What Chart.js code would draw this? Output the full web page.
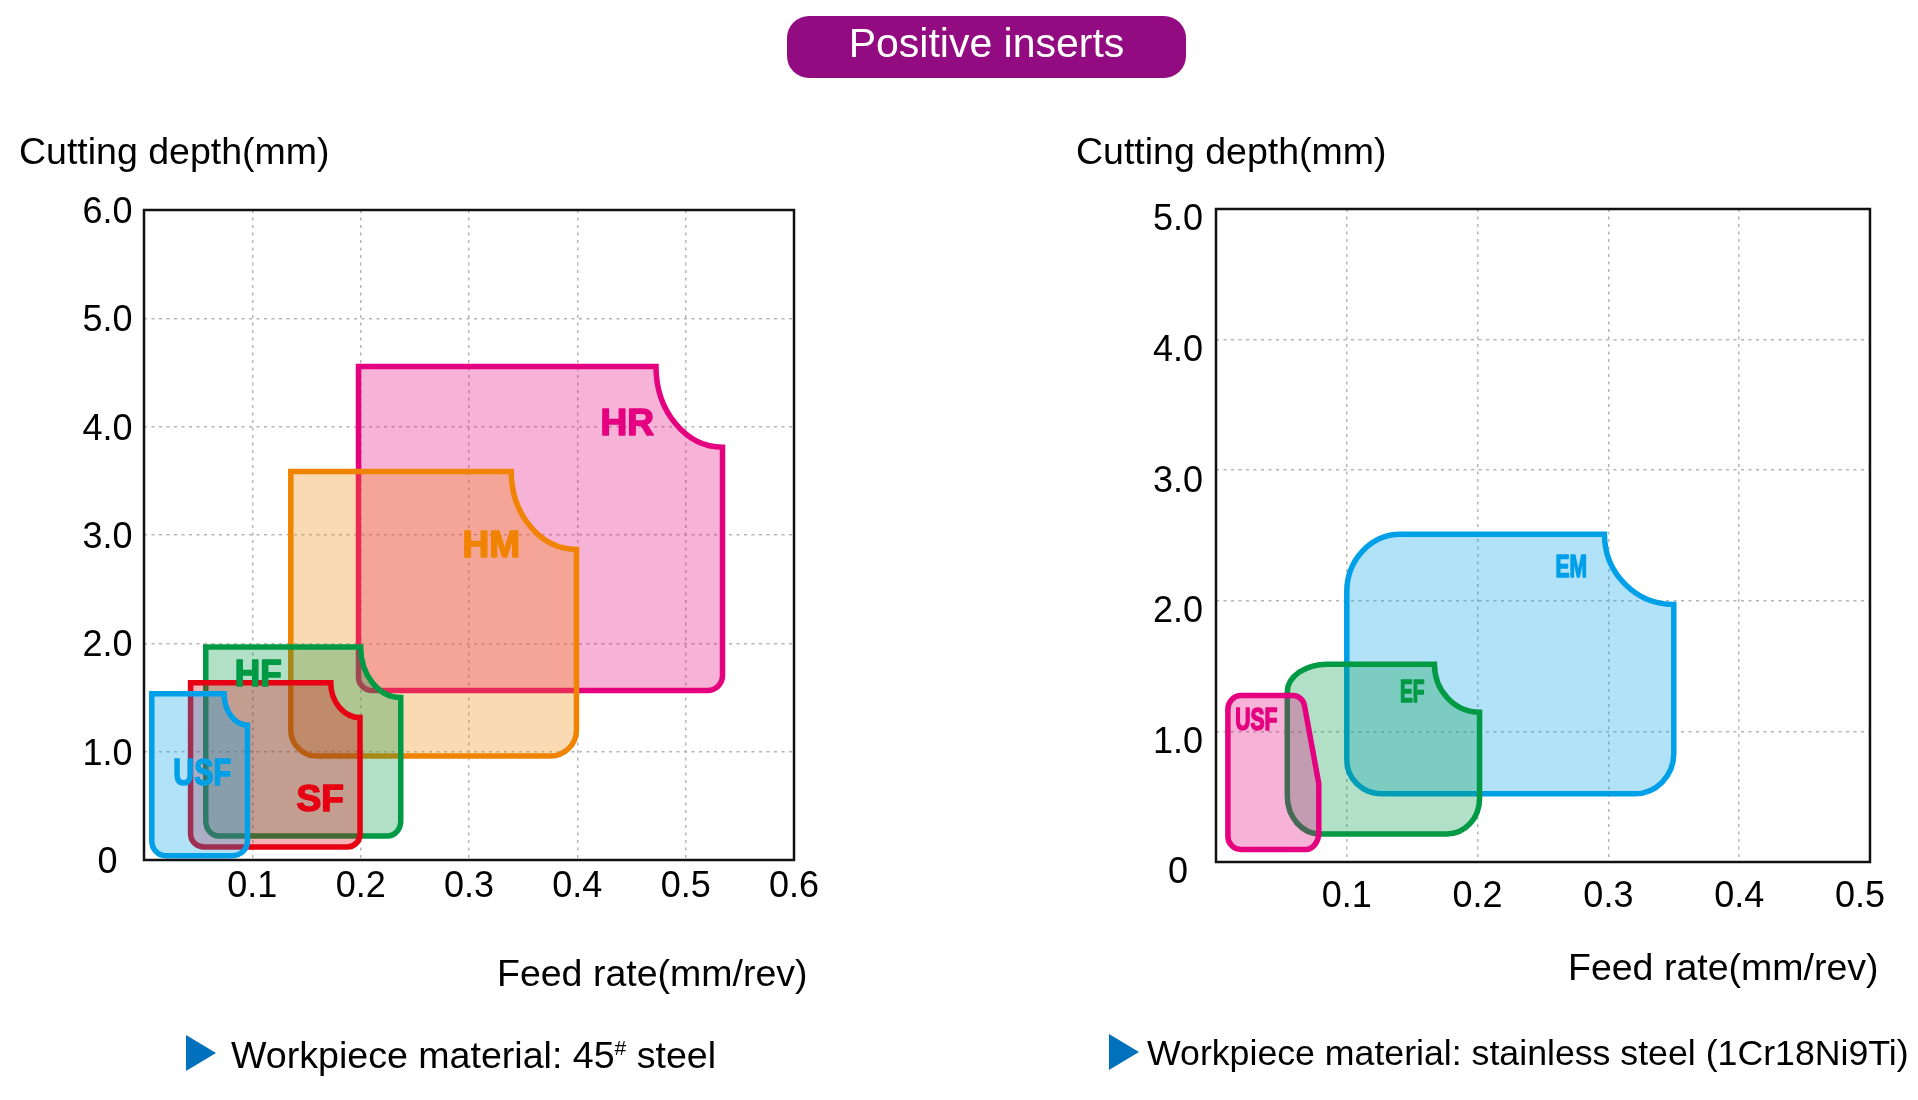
<!DOCTYPE html>
<html>
<head>
<meta charset="utf-8">
<script src="https://cdn.jsdelivr.net/npm/chart.js@4.4.1/dist/chart.umd.min.js"></script>
<style>
  body { margin: 0; width: 1918px; height: 1100px; background: #fff; position: relative; overflow: hidden;
         font-family: 'Liberation Sans', Arial, sans-serif; color: #000; }
  canvas { position: absolute; top: 0; }
  .txt { position: absolute; white-space: nowrap; font-size: 37.5px; line-height: 37.5px; z-index: 2; }
  .cap { font-size: 37.6px; line-height: 37px; }
  .tri { position: absolute; width: 0; height: 0; border-top: 18px solid transparent;
         border-bottom: 18px solid transparent; border-left: 30px solid #0071bc; z-index: 2; }
  #pill { position: absolute; left: 787px; top: 16px; width: 399px; height: 62px; box-sizing: border-box;
          padding-top: 7px; border-radius: 22px; background: #920b81; color: #fff; text-align: center;
          font-size: 41px; line-height: 41px; }
  sup { font-size: 21px; line-height: 0; vertical-align: 13px; }
</style>
</head>
<body>
<canvas id="leftChart" width="960" height="1100" style="left:0"></canvas>
<canvas id="rightChart" width="958" height="1100" style="left:960px"></canvas>

<div id="pill">Positive inserts</div>
<div class="txt" style="left:19px; top:133px">Cutting depth(mm)</div>
<div class="txt" style="left:1076px; top:133px">Cutting depth(mm)</div>
<div class="txt" style="left:497px; top:955px">Feed rate(mm/rev)</div>
<div class="txt" style="left:1568px; top:949px">Feed rate(mm/rev)</div>
<div class="tri" style="left:186px; top:1035px"></div>
<div class="txt cap" style="left:231px; top:1037px">Workpiece material: 45<sup>#</sup> steel</div>
<div class="tri" style="left:1109px; top:1034px"></div>
<div class="txt cap" style="left:1147px; top:1035px; font-size:35.7px">Workpiece material: stainless steel (1Cr18Ni9Ti)</div>

<script>
// Axis ticks
const leftXTicks = [0.1, 0.2, 0.3, 0.4, 0.5, 0.6];
const leftXLabels = ['0.1', '0.2', '0.3', '0.4', '0.5', '0.6'];
const leftYTicks = [0, 1, 2, 3, 4, 5, 6];
const leftYLabels = ['0', '1.0', '2.0', '3.0', '4.0', '5.0', '6.0'];
const rightXTicks = [0.1, 0.2, 0.3, 0.4, 0.5];
const rightXLabels = ['0.1', '0.2', '0.3', '0.4', '0.5'];
const rightYTicks = [0, 1, 2, 3, 4, 5];
const rightYLabels = ['0', '1.0', '2.0', '3.0', '4.0', '5.0'];

// Insert grades, drawn back to front
const leftGrades = ['HR', 'HM', 'HF', 'SF', 'USF'];
const rightGrades = ['EM', 'EF', 'USF'];

// Working ranges as outlines [feed, depth]; a third value 1 marks the corner of a rounded bend
const hrOutline = [[0.198, 4.556], [0.4726, 4.556], [0.4726, 3.81, 1], [0.534, 3.81], [0.534, 1.70],
  [0.534, 1.565, 1], [0.520, 1.565], [0.211, 1.565], [0.198, 1.565, 1], [0.198, 1.685]];
const hmOutline = [[0.1355, 3.586], [0.339, 3.586], [0.339, 2.867, 1], [0.3992, 2.867], [0.3992, 1.20],
  [0.3992, 0.96, 1], [0.375, 0.96], [0.1595, 0.96], [0.1355, 0.96, 1], [0.1355, 1.20]];
const hfOutline = [[0.057, 1.967], [0.200, 1.967], [0.200, 1.50, 1], [0.237, 1.50], [0.237, 0.36],
  [0.237, 0.222, 1], [0.2247, 0.222], [0.069, 0.222], [0.057, 0.222, 1], [0.057, 0.36]];
const sfOutline = [[0.043, 1.636], [0.1724, 1.636], [0.1724, 1.315, 1], [0.1994, 1.315], [0.1994, 0.2375],
  [0.1994, 0.12, 1], [0.1877, 0.12], [0.0554, 0.12], [0.043, 0.12, 1], [0.043, 0.2375]];
const usfLeftOutline = [[0.0072, 1.535], [0.074, 1.535], [0.074, 1.245, 1], [0.0955, 1.245], [0.0955, 0.176],
  [0.0955, 0.04, 1], [0.0816, 0.04], [0.020, 0.04], [0.0072, 0.04, 1], [0.0072, 0.176]];

const emOutline = [[0.1, 2.07], [0.1, 2.51, 1], [0.141, 2.51], [0.297, 2.51], [0.297, 1.972, 1], [0.35, 1.972],
  [0.35, 0.83], [0.35, 0.522, 1], [0.32, 0.522], [0.127, 0.522], [0.1, 0.522, 1], [0.1, 0.78]];
const efOutline = [[0.0545, 1.30], [0.0545, 1.515, 1], [0.085, 1.515], [0.167, 1.515], [0.167, 1.147, 1],
  [0.2015, 1.147], [0.2015, 0.485], [0.2015, 0.215, 1], [0.1765, 0.215], [0.0795, 0.215],
  [0.0545, 0.215, 1], [0.0545, 0.505]];
const usfRightOutline = [[0.0091, 1.17], [0.0091, 1.274, 1], [0.019, 1.274], [0.059, 1.274],
  [0.0662, 1.274, 1], [0.0676, 1.20], [0.0786, 0.60], [0.0786, 0.226], [0.0786, 0.096, 1],
  [0.0686, 0.096], [0.019, 0.096], [0.0091, 0.096, 1], [0.0091, 0.196]];

// Where each grade name is written [feed, depth]
const leftLabelAt = [[0.446, 4.02], [0.3206, 2.89], [0.1054, 1.70], [0.1627, 0.546], [0.0537, 0.787]];
const rightLabelAt = [[0.2717, 2.247], [0.150, 1.293], [0.0308, 1.077]];

const leftColors = ['#e4007f', '#f08300', '#009944', '#e60012', '#00a0e9'];
const rightColors = ['#00a0e9', '#009944', '#e4007f'];

const FONT = "'Liberation Sans', Arial, sans-serif";
const K = 0.5523; // quarter ellipse as a cubic

function tint(hex, a) {
  const n = parseInt(hex.slice(1), 16);
  return `rgba(${n >> 16}, ${(n >> 8) & 255}, ${n & 255}, ${a})`;
}

function toPoints(outline) {
  return outline.map(([x, y, c]) => ({ x, y, c: !!c }));
}

// Draws each outline through the scales, then the grade names and the frame
function regionPlugin(labelAt, fontSize, squash) {
  return {
    id: 'regions',
    beforeDatasetsDraw(chart) {
      const { ctx, scales: { x, y } } = chart;
      chart.data.datasets.forEach(ds => {
        const pts = ds.data.map(p => ({ px: x.getPixelForValue(p.x), py: y.getPixelForValue(p.y), c: p.c }));
        ctx.save();
        ctx.beginPath();
        ctx.moveTo(pts[0].px, pts[0].py);
        for (let i = 1; i < pts.length; i++) {
          const p = pts[i];
          if (p.c) {
            const a = pts[i - 1], b = pts[(i + 1) % pts.length];
            ctx.bezierCurveTo(a.px + K * (p.px - a.px), a.py + K * (p.py - a.py),
              b.px + K * (p.px - b.px), b.py + K * (p.py - b.py), b.px, b.py);
            i++;
          } else {
            ctx.lineTo(p.px, p.py);
          }
        }
        ctx.closePath();
        ctx.fillStyle = ds.backgroundColor;
        ctx.fill();
        ctx.lineWidth = 5.5;
        ctx.lineJoin = 'miter';
        ctx.strokeStyle = ds.borderColor;
        ctx.stroke();
        ctx.restore();
      });
    },
    afterDatasetsDraw(chart) {
      const { ctx, chartArea, scales: { x, y } } = chart;
      chart.data.datasets.forEach((ds, i) => {
        ctx.save();
        ctx.translate(x.getPixelForValue(labelAt[i][0]), y.getPixelForValue(labelAt[i][1]));
        ctx.scale(squash[i], 1);
        ctx.font = `bold ${fontSize}px ${FONT}`;
        ctx.fillStyle = ds.borderColor;
        ctx.strokeStyle = ds.borderColor;
        ctx.lineWidth = 1.6;
        ctx.lineJoin = 'round';
        ctx.textAlign = 'center';
        ctx.textBaseline = 'middle';
        ctx.fillText(ds.label, 0, 0);
        ctx.strokeText(ds.label, 0, 0); // heavier lettering
        ctx.restore();
      });
      // plot frame
      ctx.save();
      ctx.lineWidth = 2.5;
      ctx.strokeStyle = '#111';
      ctx.strokeRect(chartArea.left, chartArea.top, chartArea.right - chartArea.left, chartArea.bottom - chartArea.top);
      ctx.restore();
    }
  };
}

function makeChart(id, cfg) {
  return new Chart(document.getElementById(id).getContext('2d'), {
    type: 'scatter',
    data: {
      datasets: cfg.grades.map((g, i) => ({
        label: g,
        data: toPoints(cfg.outlines[i]),
        borderColor: cfg.colors[i],
        backgroundColor: tint(cfg.colors[i], 0.3),
        showLine: false,
        pointRadius: 0
      }))
    },
    options: {
      responsive: false,
      animation: false,
      devicePixelRatio: 1,
      layout: { padding: cfg.padding },
      events: [],
      plugins: { legend: { display: false }, tooltip: { enabled: false } },
      scales: {
        x: {
          type: 'linear', min: 0, max: cfg.xMax,
          afterBuildTicks: s => { s.ticks = cfg.xTicks.map(v => ({ value: v })); },
          afterFit: s => { s.height = 60; },
          grid: { color: '#b5b5b5', lineWidth: 1.5, drawTicks: false },
          border: { display: false, dash: [3, 4.5] },
          ticks: {
            autoSkip: false, maxRotation: 0, padding: cfg.xPad, color: '#000',
            font: { family: FONT, size: 36 },
            callback: cfg.xLabel
          }
        },
        y: {
          type: 'linear', min: 0, max: cfg.yMax,
          afterBuildTicks: s => { s.ticks = cfg.yTicks.map(v => ({ value: v })); },
          afterFit: s => { s.width = cfg.yWidth; },
          grid: { color: '#b5b5b5', lineWidth: 1.5, drawTicks: false },
          border: { display: false, dash: [3, 4.5] },
          ticks: {
            crossAlign: 'center', padding: cfg.yPad, labelOffset: cfg.yOffset, color: '#000',
            font: { family: FONT, size: 36 },
            callback: (v, i) => cfg.yLabels[i]
          }
        }
      }
    },
    plugins: [regionPlugin(cfg.labelAt, cfg.fontSize, cfg.squash)]
  });
}

// 45# steel
makeChart('leftChart', {
  grades: leftGrades, colors: leftColors,
  outlines: [hrOutline, hmOutline, hfOutline, sfOutline, usfLeftOutline],
  labelAt: leftLabelAt, fontSize: 37, squash: [1, 1, 0.95, 1, 0.78],
  xMax: 0.6, yMax: 6, xTicks: leftXTicks, yTicks: leftYTicks, yLabels: leftYLabels,
  xLabel: (v, i) => leftXLabels[i],
  padding: { left: 0, top: 210, right: 166, bottom: 180 }, yWidth: 144, xPad: 5, yPad: 11.5, yOffset: 3
});

// stainless steel; the last feed label sits a little inside the frame
makeChart('rightChart', {
  grades: rightGrades, colors: rightColors,
  outlines: [emOutline, efOutline, usfRightOutline],
  labelAt: rightLabelAt, fontSize: 31, squash: [0.68, 0.62, 0.68],
  xMax: 0.5, yMax: 5, xTicks: rightXTicks, yTicks: rightYTicks, yLabels: rightYLabels,
  xLabel: (v, i) => i === rightXLabels.length - 1 ? rightXLabels[i] + '\u00a0\u00a0' : rightXLabels[i],
  padding: { left: 0, top: 209, right: 48, bottom: 178 }, yWidth: 256, xPad: 13, yPad: 13, yOffset: 11.5
});
</script>
</body>
</html>
